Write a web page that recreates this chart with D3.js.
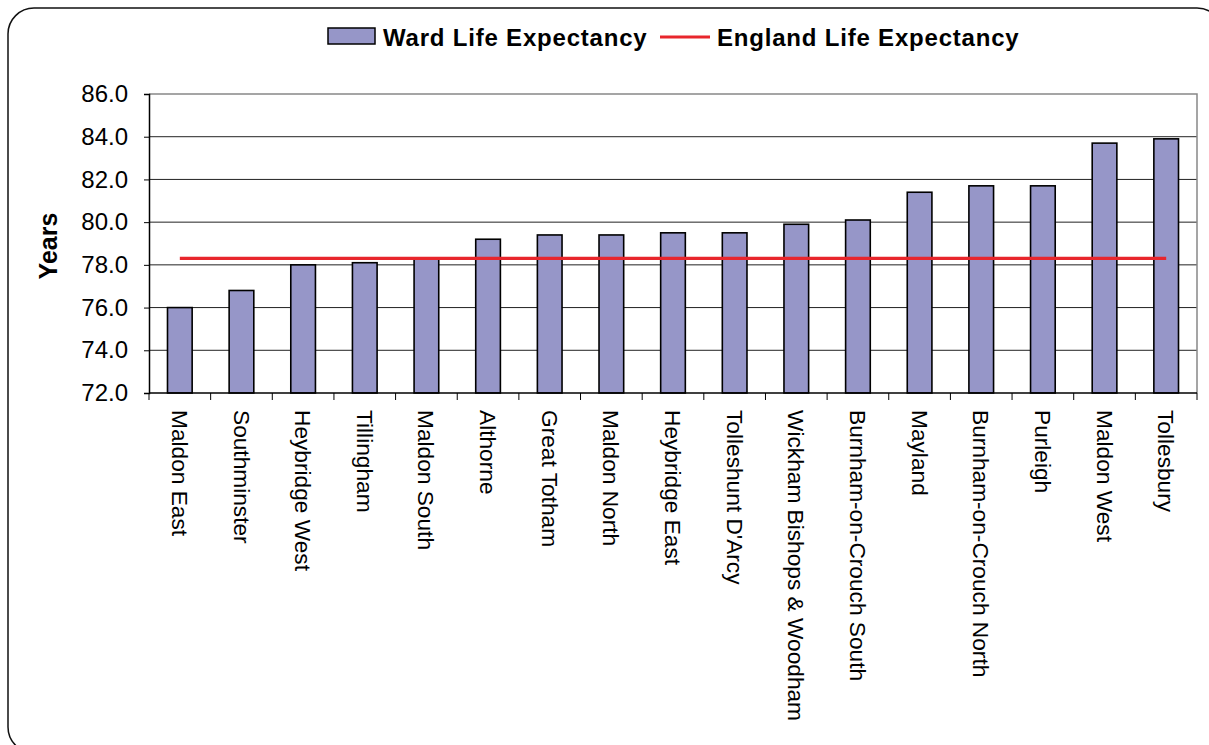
<!DOCTYPE html>
<html>
<head>
<meta charset="utf-8">
<script src="https://cdn.jsdelivr.net/npm/d3@7"></script>
<style>
  body { margin: 0; background: #fff; }
  svg { font-family: Arial, "Liberation Sans", sans-serif; }
</style>
</head>
<body>
<svg width="1209" height="745"></svg>
<script>
// data
const wards = ["Maldon East", "Southminster", "Heybridge West", "Tillingham", "Maldon South",
    "Althorne", "Great Totham", "Maldon North", "Heybridge East", "Tolleshunt D'Arcy",
    "Wickham Bishops & Woodham", "Burnham-on-Crouch South", "Mayland", "Burnham-on-Crouch North",
    "Purleigh", "Maldon West", "Tollesbury"];
const wardLife = [76.0, 76.8, 78.0, 78.1, 78.3, 79.2, 79.4, 79.4, 79.5, 79.5,
    79.9, 80.1, 81.4, 81.7, 81.7, 83.7, 83.9];
const englandLife = 78.3;
const yTicks = [72, 74, 76, 78, 80, 82, 84, 86];
const seriesNames = ["Ward Life Expectancy", "England Life Expectancy"];

const margin = {top: 94, right: 12, bottom: 352, left: 149},
    width = 1209 - margin.left - margin.right,
    height = 745 - margin.top - margin.bottom;

const barColor = "#9696c8", lineColor = "#e8262c";

const svg = d3.select("svg");

// outer rounded frame
svg.append("rect")
    .attr("x", 8).attr("y", 8)
    .attr("width", 1215).attr("height", 745)
    .attr("rx", 26)
    .attr("fill", "none")
    .attr("stroke", "#111")
    .attr("stroke-width", 1.5);

const g = svg.append("g").attr("transform", `translate(${margin.left},${margin.top})`);

const x = d3.scaleBand().domain(wards).range([0, width]).padding(0);
const y = d3.scaleLinear().domain([72, 86]).range([height, 0]);

// gridlines
g.append("g")
    .selectAll("line")
    .data(yTicks.slice(1, -1))
    .join("line")
    .attr("x1", 0).attr("x2", width)
    .attr("y1", d => y(d)).attr("y2", d => y(d))
    .attr("stroke", "#222")
    .attr("stroke-width", 1);

// plot area border top/right
g.append("path")
    .attr("d", `M0,${y(86)}H${width}V${height}`)
    .attr("fill", "none")
    .attr("stroke", "#888")
    .attr("stroke-width", 1.5);

// bars
const bw = x.bandwidth() * 0.4;
g.append("g")
    .selectAll("rect")
    .data(wards)
    .join("rect")
    .attr("x", d => x(d) + (x.bandwidth() - bw) / 2)
    .attr("y", (d, i) => y(wardLife[i]))
    .attr("width", bw)
    .attr("height", (d, i) => height - y(wardLife[i]))
    .attr("fill", barColor)
    .attr("stroke", "#000")
    .attr("stroke-width", 1.6);

// england line
g.append("line")
    .attr("x1", x(wards[0]) + x.bandwidth() / 2)
    .attr("x2", x(wards[wards.length - 1]) + x.bandwidth() / 2)
    .attr("y1", y(englandLife)).attr("y2", y(englandLife))
    .attr("stroke", lineColor)
    .attr("stroke-width", 3.2);

// y axis
const yAxis = g.append("g")
    .call(d3.axisLeft(y).tickValues(yTicks).tickFormat(d3.format(".1f")).tickSize(5).tickPadding(16));
yAxis.select(".domain").attr("stroke", "#000").attr("stroke-width", 1.5);
yAxis.selectAll(".tick line").attr("stroke", "#000");
yAxis.selectAll("text")
    .attr("font-size", 24)
    .attr("font-family", "Arial, 'Liberation Sans', sans-serif")
    .attr("fill", "#000");

// x axis: ticks at category boundaries
g.append("line")
    .attr("x1", 0).attr("x2", width)
    .attr("y1", height).attr("y2", height)
    .attr("stroke", "#000").attr("stroke-width", 1.5);
g.append("g")
    .selectAll("line")
    .data(wards.concat(["end"]))
    .join("line")
    .attr("x1", (d, i) => i * x.step())
    .attr("x2", (d, i) => i * x.step())
    .attr("y1", height).attr("y2", height + 7)
    .attr("stroke", "#000");

g.append("g")
    .selectAll("text")
    .data(wards)
    .join("text")
    .attr("transform", d => `translate(${x(d) + x.bandwidth() / 2},${height + 17}) rotate(90)`)
    .attr("dy", "0.35em")
    .attr("font-size", 22.7)
    .attr("fill", "#000")
    .text(d => d);

// y title
svg.append("text")
    .attr("transform", "translate(57,246) rotate(-90)")
    .attr("text-anchor", "middle")
    .attr("font-size", 25)
    .attr("font-weight", "bold")
    .text("Years");

// legend
const leg = svg.append("g");
leg.append("rect")
    .attr("x", 328).attr("y", 28)
    .attr("width", 47).attr("height", 16)
    .attr("fill", barColor)
    .attr("stroke", "#000").attr("stroke-width", 1.5);
leg.append("text")
    .attr("x", 383).attr("y", 45.5)
    .attr("font-size", 24).attr("font-weight", "bold")
    .attr("letter-spacing", 0.8)
    .text(seriesNames[0]);
leg.append("line")
    .attr("x1", 660).attr("x2", 710)
    .attr("y1", 37).attr("y2", 37)
    .attr("stroke", lineColor).attr("stroke-width", 3.2);
leg.append("text")
    .attr("x", 717).attr("y", 45.5)
    .attr("font-size", 24).attr("font-weight", "bold")
    .attr("letter-spacing", 0.8)
    .text(seriesNames[1]);
</script>
</body>
</html>
